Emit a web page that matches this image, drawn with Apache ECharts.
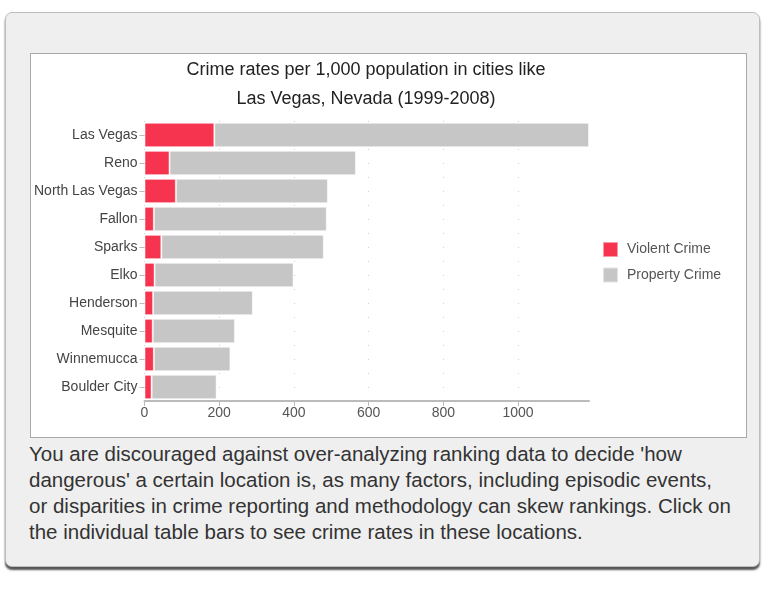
<!DOCTYPE html>
<html>
<head>
<meta charset="utf-8">
<script src="https://cdn.jsdelivr.net/npm/echarts@6/dist/echarts.min.js"></script>
<style>
  html, body { margin: 0; padding: 0; background: #fff; width: 768px; height: 590px; overflow: hidden; font-family: "Liberation Sans", Arial, sans-serif; }
  #outer { position: absolute; left: 5px; top: 12px; width: 753px; height: 553px; background: #efefef; border: 1px solid #bdbdbd; border-radius: 7px; box-shadow: 0 3px 2px #555; }
  #chart { position: absolute; left: 30px; top: 53px; width: 715px; height: 383px; background: #fff; border: 1px solid #a9a9a9; }
  #note { position: absolute; left: 29px; top: 441px; width: 706px; font-size: 20.5px; line-height: 26px; color: #333; }
</style>
</head>
<body>
<div id="outer"></div>
<div id="chart"></div>
<div id="note">You are discouraged against over-analyzing ranking data to decide 'how dangerous' a certain location is, as many factors, including episodic events, or disparities in crime reporting and methodology can skew rankings. Click on the individual table bars to see crime rates in these locations.</div>
<script>
const cities = ["Las Vegas", "Reno", "North Las Vegas", "Fallon", "Sparks", "Elko", "Henderson", "Mesquite", "Winnemucca", "Boulder City"];
const violentCrime = [187, 67, 84, 25, 45, 27, 23, 22, 25, 19];
const propertyCrime = [1003, 499, 407, 463, 435, 372, 267, 220, 205, 174];
const xTicks = [0, 200, 400, 600, 800, 1000];
const titleText = "Crime rates per 1,000 population in cities like\nLas Vegas, Nevada (1999-2008)";

const chart = echarts.init(document.getElementById('chart'));
const font = '"Liberation Sans", Arial, sans-serif';
const gridColors = ['#cfcfcf', '#cfcfcf', '#cfcfcf', '#cfcfcf', '#cfcfcf', '#cfcfcf', 'rgba(0,0,0,0)'];
chart.setOption({
  animation: false,
  textStyle: { fontFamily: font },
  title: {
    text: titleText,
    left: 335, top: 2, padding: 0, textAlign: 'center',
    textStyle: { fontSize: 18, fontWeight: 'normal', color: '#222', lineHeight: 29, fontFamily: font }
  },
  legend: {
    orient: 'vertical', left: 566, top: 182,
    itemWidth: 15, itemHeight: 15, itemGap: 8.5,
    icon: 'rect',
    textStyle: { fontSize: 14, color: '#555', fontFamily: font, padding: [0, 0, 0, 4] },
    data: ['Violent Crime', 'Property Crime']
  },
  grid: { left: 112, right: 157, top: 67, bottom: 36, containLabel: false },
  xAxis: {
    type: 'value', min: 0, max: 1190, interval: 200,
    axisLine: { show: true, lineStyle: { color: '#bbb', width: 2 } },
    axisTick: { show: true, length: 5, lineStyle: { color: '#bbb' } },
    axisLabel: { color: '#555', fontSize: 14, margin: 5, showMaxLabel: false,
      formatter: v => xTicks.includes(v) ? String(v) : '' },
    splitLine: { show: true, lineStyle: { color: gridColors, type: [1, 13], width: 1 } }
  },
  yAxis: {
    type: 'category', data: cities, inverse: true,
    axisLine: { show: false },
    axisTick: { show: true, alignWithLabel: true, length: 5, lineStyle: { color: '#bbb' } },
    axisLabel: { color: '#444', fontSize: 14, margin: 7 },
    splitLine: { show: false }
  },
  series: [
    { name: 'Violent Crime', type: 'bar', stack: 'c', data: violentCrime, barCategoryGap: '13%',
      itemStyle: { color: '#f7344f', borderColor: 'rgba(255,255,255,0.5)', borderWidth: 1 } },
    { name: 'Property Crime', type: 'bar', stack: 'c', data: propertyCrime, barCategoryGap: '13%',
      itemStyle: { color: '#c5c6c5', borderColor: 'rgba(255,255,255,0.5)', borderWidth: 1 } }
  ]
});
</script>
</body>
</html>
